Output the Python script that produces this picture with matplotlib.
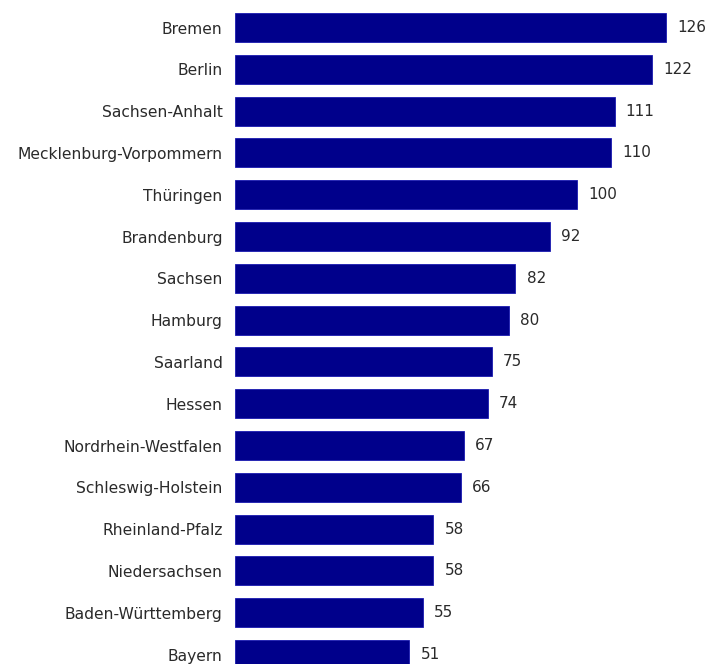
import matplotlib.pyplot as plt

states = ["Bremen", "Berlin", "Sachsen-Anhalt", "Mecklenburg-Vorpommern", "Thüringen",
          "Brandenburg", "Sachsen", "Hamburg", "Saarland", "Hessen",
          "Nordrhein-Westfalen", "Schleswig-Holstein", "Rheinland-Pfalz",
          "Niedersachsen", "Baden-Württemberg", "Bayern"]
values = [126, 122, 111, 110, 100, 92, 82, 80, 75, 74, 67, 66, 58, 58, 55, 51]

fig = plt.figure(figsize=(7.08, 6.64), dpi=100)
ax = fig.add_axes([235 / 708, 0, 473 / 708, 1])

step = 41.8  # pixels between bar centres
pos = list(range(len(states)))
bars = ax.barh(pos, values, height=0.69, color="#00008b", edgecolor="#1a1ab0", linewidth=0.6)

ax.set_xlim(0, 473 / 3.42)
ax.set_ylim((664 - 27.5) / step, -27.5 / step)
ax.set_yticks(pos, states, fontsize=11.2, color="#2a2a2a")
ax.tick_params(axis="y", length=0, pad=9)
ax.set_xticks([])
for s in ax.spines.values():
    s.set_visible(False)

ax.bar_label(bars, labels=[str(v) for v in values], padding=8, fontsize=11, color="#2a2a2a")

fig.savefig("out.png", dpi=100)
